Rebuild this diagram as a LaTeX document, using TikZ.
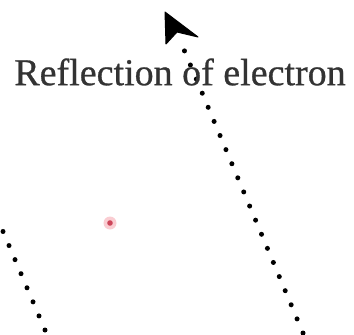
\documentclass[tikz,border=0pt]{standalone}
\usepackage{fontspec}
\setmainfont{Liberation Serif}[FakeBold=0.7]
\definecolor{dotred}{RGB}{205,70,90}
\definecolor{halo}{RGB}{250,205,210}
\tikzset{
  dotline/.style={line width=5pt, line cap=round, dash pattern=on 0pt off 15.3pt, black},
  lbl/.style={font=\fontsize{38}{42}\selectfont, text=black!80, inner sep=0pt}
}
\begin{document}
\begin{tikzpicture}[x=1pt,y=-1pt]
\useasboundingbox (0,0) rectangle (354,335);
\coordinate (a1) at (303,333);
\coordinate (a2) at (182,45);
\coordinate (tip) at (165,12);
\coordinate (barbR) at (198,37);
\coordinate (notch) at (177,32);
\coordinate (barbL) at (166,44);
\coordinate (b1) at (-7,208);
\coordinate (b2) at (45,330);
\draw[dotline] (a1) -- (a2);
\filldraw[black, line width=1pt, line join=round] (tip) -- (barbR) -- (notch) -- (barbL) -- cycle;
\draw[dotline] (b2) -- (b1);
\node[lbl] (txt) at (180,72) {Reflection of electron};
\fill[halo] (110,223) circle (6.5);
\fill[dotred] (110,223) circle (2.8);
\end{tikzpicture}
\end{document}
